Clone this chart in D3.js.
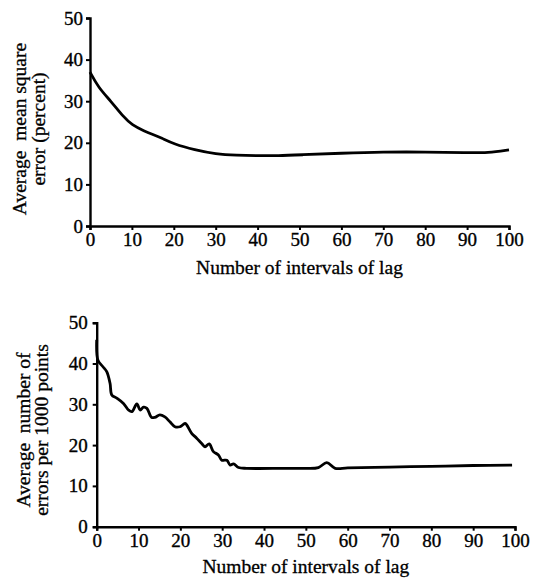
<!DOCTYPE html>
<html>
<head>
<meta charset="utf-8">
<script src="https://cdn.jsdelivr.net/npm/d3@7"></script>
<style>
  body { margin: 0; background: #fff; }
  text { font-family: "Liberation Serif", "DejaVu Serif", serif; fill: #000; white-space: pre; }
</style>
</head>
<body>
<script>
// top panel: average mean square error vs lag
const lagTop = [0, 2, 5, 8, 10, 13, 15, 17, 20, 25, 30, 35, 40, 45, 50, 60, 70, 80, 90, 95, 100];
const mseTop = [37, 33.3, 30, 26.2, 24.3, 22.8, 22, 21.2, 19.7, 18.3, 17.3, 17, 16.9, 16.9, 17.1, 17.5, 17.8, 17.8, 17.6, 17.6, 18.3];

// bottom panel: errors per 1000 points vs lag
const lagBottom = [0, 0.3, 1.5, 2.4, 3.2, 3.6, 4.8, 6.4, 7.6, 8.4, 9.6, 10.4, 11.2, 12, 13.1, 13.9, 15.1, 16.3, 17.5, 18.7, 19.9, 21.1, 21.5, 22.7, 23.9, 25.1, 25.9, 26.9, 27.9, 29.1, 29.9, 31.1, 31.9, 32.7, 33.9, 35.9, 45, 50, 53, 55, 57, 60, 70, 80, 90, 99.3];
const errBottom = [45.8, 40.8, 39.2, 38, 35.1, 32.3, 31.5, 30.2, 28.6, 28.2, 30.1, 28.6, 29.3, 29, 26.8, 26.8, 27.4, 26.9, 25.7, 24.5, 24.5, 25.3, 25, 22.9, 21.7, 20.4, 19.6, 20.3, 18.4, 17.6, 16.3, 16.3, 15.1, 15.4, 14.5, 14.3, 14.3, 14.3, 14.5, 15.7, 14.3, 14.4, 14.6, 14.8, 15, 15.1];

const xTicks = [0, 10, 20, 30, 40, 50, 60, 70, 80, 90, 100];
const yTicks = [0, 10, 20, 30, 40, 50];

const width = 542, height = 578;

const svg = d3.select("body").append("svg")
    .attr("width", width)
    .attr("height", height);

function draw_panel(opts) {
    const x = d3.scaleLinear().domain([0, 100]).range([opts.left, opts.right]);
    const y = d3.scaleLinear().domain([0, 50]).range([opts.bottom, opts.top]);
    const g = svg.append("g");

    const xAxis = g.append("g")
        .attr("transform", `translate(0,${opts.bottom})`)
        .call(d3.axisBottom(x).tickValues(xTicks).tickSize(4).tickPadding(3));
    const yAxis = g.append("g")
        .attr("transform", `translate(${opts.left},0)`)
        .call(d3.axisLeft(y).tickValues(yTicks).tickSize(4).tickPadding(opts.ypad));

    [xAxis, yAxis].forEach(a => {
        a.select(".domain").attr("stroke", "#000").attr("stroke-width", 2.4);
        a.selectAll(".tick line").attr("stroke", "#000").attr("stroke-width", 2);
        a.selectAll(".tick text")
            .style("font-family", "Liberation Serif, serif")
            .style("font-size", "19px")
            .attr("stroke", "#000").attr("stroke-width", 0.35);
    });

    const line = d3.line()
        .x(d => x(d[0]))
        .y(d => y(d[1]))
        .curve(opts.curve);

    g.append("path")
        .datum(d3.zip(opts.xs, opts.ys))
        .attr("fill", "none")
        .attr("stroke", "#000")
        .attr("stroke-width", 2.8)
        .attr("stroke-linejoin", "round")
        .attr("d", line);

    g.append("text")
        .attr("x", (opts.left + opts.right) / 2)
        .attr("y", opts.xTitleY)
        .attr("text-anchor", "middle")
        .style("font-size", "19.5px")
        .attr("stroke", "#000").attr("stroke-width", 0.3)
        .text("Number of intervals of lag");

    opts.yTitle.forEach((t, i) => {
        g.append("text")
            .attr("transform", `translate(${opts.yTitleX[i]},${opts.yTitleCy}) rotate(-90)`)
            .attr("text-anchor", "middle")
            .style("font-size", "19.5px")
            .attr("stroke", "#000").attr("stroke-width", 0.3)
            .text(t);
    });
}

draw_panel({
    left: 90, right: 509, top: 18, bottom: 226, ypad: 3,
    xs: lagTop, ys: mseTop, curve: d3.curveBasis,
    xTitleY: 274,
    yTitle: ["Average  mean square", "error (percent)"],
    yTitleX: [26, 45], yTitleCy: 129
});

draw_panel({
    left: 96.7, right: 515, top: 322.7, bottom: 526.7, ypad: 5,
    xs: lagBottom, ys: errBottom, curve: d3.curveCatmullRom,
    xTitleY: 573,
    yTitle: ["Average  number of", "errors per 1000 points"],
    yTitleX: [30, 48], yTitleCy: 430
});
</script>
</body>
</html>
